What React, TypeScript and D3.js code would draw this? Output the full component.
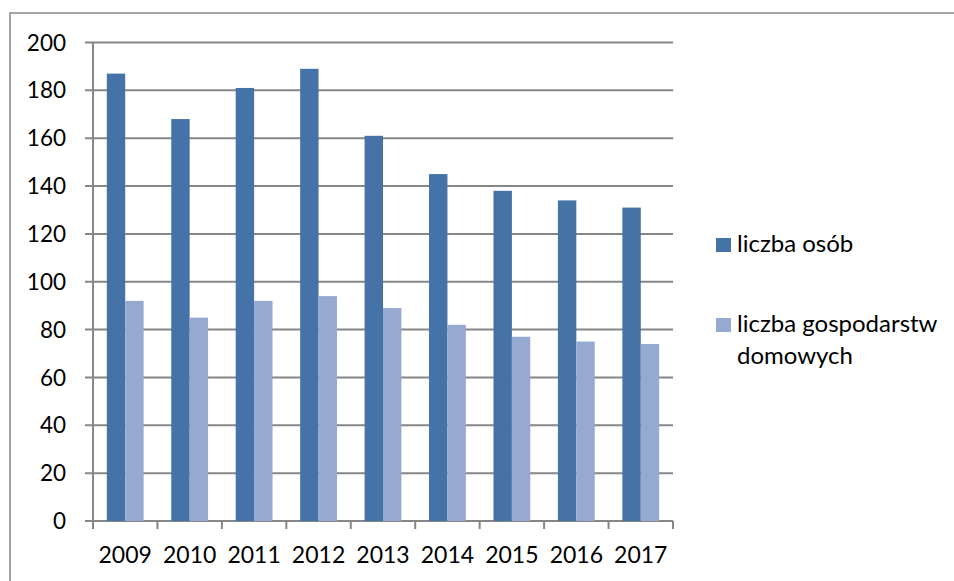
import React from "react";
import * as d3 from "d3";

const years = ["2009", "2010", "2011", "2012", "2013", "2014", "2015", "2016", "2017"];
const persons = [187, 168, 181, 189, 161, 145, 138, 134, 131];
const households = [92, 85, 92, 94, 89, 82, 77, 75, 74];
const seriesNames = ["liczba osób", "liczba gospodarstw domowych"];
const yTicks = [0, 20, 40, 60, 80, 100, 120, 140, 160, 180, 200];

const W = 954;
const H = 581;
const left = 93;
const right = 673;
const top = 42.5;
const bottom = 521;
const colors = ["#4673A7", "#95A9D1"];
const gridColor = "#868686";
const font = "Lato, 'Open Sans', sans-serif";

export default function App() {
  const x = d3.scaleBand<string>().domain(years).range([left, right]).paddingInner(0).paddingOuter(0);
  const bw = x.bandwidth();
  const barW = bw / 3.5;
  const y = d3.scaleLinear().domain([0, 200]).range([bottom, top]);
  const series = [persons, households];

  return (
    <svg
      width={W}
      height={H}
      style={{ position: "fixed", left: 0, top: 0, background: "#fff" }}
      fontFamily={font}
    >
      <rect x={0} y={0} width={W} height={H} fill="#fff" />
      <rect x={10} y={13} width={W + 20} height={H + 20} fill="none" stroke={gridColor} strokeWidth={1.5} />
      {yTicks.map((t) => (
        <g key={t}>
          <line x1={left - 8} x2={right} y1={y(t)} y2={y(t)} stroke={gridColor} strokeWidth={2} />
          <text x={66} y={y(t)} dy="0.36em" textAnchor="end" fontSize={22.5} fill="#000">
            {t}
          </text>
        </g>
      ))}
      <line x1={left} x2={left} y1={top} y2={bottom + 8} stroke={gridColor} strokeWidth={2} />
      {years.map((yr) => (
        <line key={"t" + yr} x1={x(yr) as number} x2={x(yr) as number} y1={bottom} y2={bottom + 8} stroke={gridColor} strokeWidth={2} />
      ))}
      <line x1={right} x2={right} y1={bottom} y2={bottom + 8} stroke={gridColor} strokeWidth={2} />
      {series.map((vals, s) =>
        years.map((yr, i) => (
          <rect
            key={s + "-" + yr}
            x={(x(yr) as number) + (bw - 2 * barW) / 2 + s * barW}
            y={y(vals[i])}
            width={barW}
            height={bottom - y(vals[i])}
            fill={colors[s]}
          />
        ))
      )}
      {years.map((yr) => (
        <text key={"l" + yr} x={(x(yr) as number) + bw / 2} y={563} textAnchor="middle" fontSize={23} fill="#000">
          {yr}
        </text>
      ))}
      <rect x={716} y={238} width={15} height={14} fill={colors[0]} />
      <text x={737} y={252} fontSize={24} fill="#000">
        {seriesNames[0]}
      </text>
      <rect x={716} y={318} width={15} height={14} fill={colors[1]} />
      <text x={737} y={332} fontSize={24} fill="#000">
        liczba gospodarstw
      </text>
      <text x={737} y={364} fontSize={24} fill="#000">
        domowych
      </text>
    </svg>
  );
}
